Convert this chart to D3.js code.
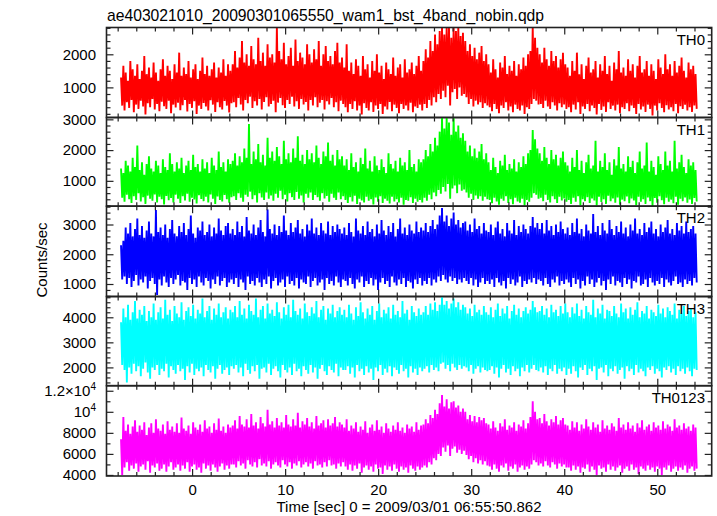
<!DOCTYPE html>
<html><head><meta charset="utf-8">
<script src="https://cdn.jsdelivr.net/npm/d3@7"></script>
<style>
body{margin:0;background:#fff}
svg{display:block}
text{font-family:"Liberation Sans",Arial,Helvetica,sans-serif}
</style>
</head><body>
<svg id="c" width="717" height="516"></svg>
<script>
// ---------------- data ----------------
const titleText = "ae403021010_20090301065550_wam1_bst_4band_nobin.qdp";
const xLabel = "Time [sec] 0 = 2009/03/01 06:55:50.862";
const yLabel = "Counts/sec";
const channels = ["TH0", "TH1", "TH2", "TH3", "TH0123"];
const channelColors = ["#ff0000", "#00ff00", "#0000ff", "#00ffff", "#ff00ff"];
const binStart = -7.7;   // s, first bin
const binWidth = 0.25;   // s, each bin holds one peak and one trough
const xTickLabels = [0, 10, 20, 30, 40, 50];

// per 0.25 s bin: peak and trough counts/sec
const th0Hi = [1300,1650,1450,1200,1800,1550,1350,1700,1250,1500,1950,1400,1600,1300,1750,1450,1200,1550,1850,1350,1650,1500,1250,1700,
1450,2050,1350,1600,1400,1800,1300,1550,1700,1250,1500,1900,1400,1650,1350,1550,1750,1300,1600,1450,1850,1350,1700,1500,
1700,2100,1600,1900,2400,1750,2000,1650,2250,1850,1700,2500,1800,2050,1650,2300,1900,2000,1750,2810,2100,1850,2350,1700,
1950,2200,1650,2450,1800,2050,1900,1700,2300,2000,1750,2150,1850,2400,1650,2000,2250,1800,1950,1700,2100,2350,1750,1900,
1600,2300,1500,1750,1400,1850,1650,1350,1950,1550,1700,1300,1800,1500,2000,1450,1650,1250,1750,1550,1400,1900,1350,1600,1700,1300,1850,1450,1550,1750,1400,1650,1950,1500,
1800,2150,1900,2400,2100,2600,2300,2700,
2810,2600,2810,2810,2500,2810,2700,2810,2550,2650,
2400,2100,2300,1950,2200,1850,2050,2250,1800,2000,
1700,1450,1850,1550,1300,1750,1600,1950,1400,1650,1500,1800,1350,1700,1550,1900,1650,2000,
2100,2810,2500,2200,
2000,1750,2200,1850,1650,2100,1800,1950,1600,1850,2050,1700,
1600,1350,1800,1500,2050,1400,1700,1250,1650,1900,1450,1550,1800,1300,1700,1500,1950,1400,1650,1200,
1750,1550,2100,1450,1600,1350,1850,1500,1700,1300,1650,1950,1450,1550,1800,1350,1700,1500,1250,1850,
1600,1400,2000,1550,1700,1350,1800,1450,1650,1900,1500,1300,1750,1550,1650,1400];
const th0Lo = [450,300,550,380,620,250,480,350,600,420,180,520,400,650,330,500,280,570,430,350,600,220,480,390,
540,310,460,620,270,500,380,580,200,450,350,530,420,300,610,480,260,550,400,330,590,450,240,520,
550,400,680,480,300,620,520,720,380,580,450,650,330,560,700,420,500,600,250,540,680,460,380,620,
500,720,420,580,350,650,480,560,300,620,450,700,400,540,620,330,580,480,680,400,550,280,600,500,
400,250,500,350,580,300,450,180,520,380,300,550,260,450,350,500,200,420,330,560,280,480,380,220,500,350,450,300,540,250,420,380,480,300,
500,380,620,450,700,550,800,650,
900,700,1050,450,850,950,650,1000,750,800,
700,500,650,420,600,480,550,380,520,450,
400,280,500,350,220,450,380,550,300,420,250,480,350,300,450,200,400,350,
500,650,600,480,
500,380,600,420,350,550,450,300,520,400,480,350,
400,250,480,330,550,200,420,350,500,280,450,380,180,500,320,420,260,550,350,450,
300,480,220,400,350,520,280,450,380,200,500,330,420,260,480,350,150,450,300,520,
380,250,460,330,400,280,500,220,430,350,480,300,400,260,450,350];

const th1Hi = [1400,1250,1650,1500,1300,1750,1450,2150,1350,1600,1200,1550,1800,1400,1300,1650,1500,1250,1700,1450,1350,1900,1550,1300,
1600,1400,1750,1250,1500,1650,1350,1850,1450,1550,1300,1700,1400,1600,1250,1750,1500,1350,1950,1450,1600,1300,1700,1550,
1650,1900,1500,1800,1600,2050,1750,2850,1550,1950,1700,2200,1600,1850,1500,2400,1750,1950,1650,2100,1800,1550,2300,1700,
1900,1600,2050,1750,2450,1650,1850,1550,2000,1700,1900,1600,2150,1750,1550,1950,1800,2250,1650,1850,1500,2000,1700,1800,
1500,1700,1350,1900,1450,1600,1300,1750,1550,2050,1400,1650,1300,1800,1500,1350,1700,1450,1250,1900,1550,1400,1650,1300,1750,1500,1600,1350,2000,1450,1550,1300,1700,1600,
1700,2000,1800,2200,1950,2400,2150,2600,
3060,2700,3060,2900,2500,3060,2600,2800,2400,2550,
2300,1950,2150,1800,2050,1750,1950,2200,1700,1900,
1600,1350,1750,1450,1250,1650,1500,1850,1350,1550,1400,1700,1300,1600,1450,1800,1550,1900,
2000,2650,2350,2050,
1900,1650,2100,1750,1550,2000,1700,1850,1500,1750,1950,1600,
1500,1300,1750,1450,2000,1350,1650,1250,1600,1850,1400,1500,2300,1300,1650,1450,1900,1350,1600,1200,
1700,1500,2100,1400,1550,1300,1800,1450,1650,1250,1600,1950,1400,1500,2250,1300,1650,1450,1200,1800,
1550,1350,1950,1500,1650,1300,2300,1400,1600,1850,1450,1250,1700,1500,1600,1350];
const th1Lo = [450,320,550,400,280,500,380,600,330,470,250,520,420,350,560,300,480,400,230,510,370,440,300,550,
420,280,500,360,580,320,450,390,260,530,410,340,480,300,560,420,250,490,380,330,540,400,290,470,
500,380,600,450,320,550,480,650,400,530,300,600,460,380,620,420,520,350,580,450,680,400,550,330,
600,470,380,640,420,520,300,580,450,620,380,540,470,350,600,430,510,320,580,450,380,620,400,500,
380,280,470,330,520,250,420,360,300,480,350,400,230,460,320,500,280,420,350,260,480,330,400,300,450,220,380,350,470,280,420,320,380,300,
450,350,550,400,620,500,700,580,
800,650,900,420,750,850,600,880,680,720,
620,450,580,380,520,420,500,350,480,400,
380,270,450,330,220,420,350,500,280,400,240,450,330,290,420,200,380,320,
450,600,550,420,
450,340,550,380,300,500,400,280,480,360,430,320,
380,250,450,320,500,210,400,340,470,280,430,360,200,480,310,400,250,520,340,430,
290,460,220,390,340,490,270,430,360,210,480,320,400,250,460,340,180,440,290,500,
370,240,450,320,390,270,480,220,420,340,460,290,390,250,440,330];

const th2Hi = [2300,2450,2900,2700,3050,2600,2850,3200,2650,2950,2550,2800,3100,2700,2600,3490,2750,2900,2650,3000,2550,2850,3150,2700,
2600,2950,2750,3050,2650,2850,3300,2700,2550,2900,2800,3100,2650,2750,3000,2600,2900,2700,3200,2800,2650,2950,3050,2700,
2850,2650,3100,2750,2950,2600,3250,2800,2700,3000,2650,2900,3150,2750,2600,3500,2850,2700,3000,2650,2950,2750,3300,2800,
2650,3050,2750,2900,3150,2700,2850,2600,3000,2800,3200,2700,2900,2650,3050,2800,2700,3100,2650,2950,2750,3000,2850,2700,
2900,2650,3050,2750,2600,3200,2800,2700,2950,2650,3100,2750,2850,2600,3000,2700,3150,2800,2650,2950,2750,3050,2600,2850,3200,2700,2900,2650,3000,2800,2700,3100,2750,2900,
2800,3050,2750,2950,3150,2850,3000,3300,
3550,3100,3300,2950,3200,3400,3000,3150,2900,3050,
3100,2800,3000,2750,3200,2850,2950,2700,3050,2800,
2750,3000,2650,2900,3100,2700,2850,2600,3050,2800,2700,3150,2650,2950,2750,3000,2850,2700,
2950,3250,2900,3050,
2850,3050,2700,3150,2800,2950,2650,3000,2750,3100,2850,2700,
2900,2650,3050,2750,3200,2700,2850,2600,3000,2800,2700,3350,2750,2950,2650,3050,2800,2700,3150,2850,
2650,2950,2750,3100,2700,2900,2600,3000,2800,3200,2700,2850,2650,3050,2750,2900,3100,2700,2850,2600,
3000,2750,2900,3150,2700,2850,2650,3050,2800,2950,2700,3100,2750,2850,2950,2700];
const th2Lo = [1150,1250,1000,1200,900,1100,1300,950,1150,1050,1250,850,1100,1200,1000,630,1150,950,1250,1050,900,1200,1000,1150,
1300,950,1100,1050,800,1200,1000,1150,900,1250,1050,950,1200,1100,850,1150,1000,1250,950,1100,1200,900,1050,1150,
1000,1200,900,1150,1050,800,1250,1000,1100,950,1200,1050,900,1150,1000,1250,850,1100,1200,950,1050,1150,900,1250,
1000,1100,950,1200,850,1150,1050,1000,1250,900,1100,1200,950,1050,1150,800,1200,1000,1100,950,1250,1050,900,1150,
1100,950,1200,1000,850,1150,1050,1250,900,1100,1000,1200,950,1150,800,1050,1200,1000,1100,900,1250,1050,950,1150,1000,1200,900,1100,1050,850,1150,1000,1200,950,
1100,1000,1200,950,1150,1050,1250,1100,
1300,1150,1050,1250,1100,1200,1000,1150,1050,1200,
1100,1000,1200,950,1150,900,1050,1200,1000,1100,
1000,1150,900,1200,1050,950,1100,850,1200,1000,1150,950,1050,1250,900,1100,1000,1150,
1050,1200,1000,1150,
1100,950,1200,1000,900,1150,1050,1250,950,1100,1000,1150,
1050,900,1200,1000,1150,850,1100,950,1250,1000,1150,900,1050,1200,950,1100,800,1150,1000,1250,
950,1100,1050,900,1200,1000,1150,850,1100,1050,1250,950,1000,1150,900,1200,1050,950,1100,1000,
1200,900,1150,1050,950,1100,1250,1000,1050,900,1150,1000,1100,950,1200,1050];

const th3Hi = [3800,4350,4000,4500,3900,4200,4650,3950,4300,4100,4450,3850,4250,4000,4550,3900,4200,4400,3950,4700,4100,4300,3850,4450,
4150,4000,4600,3900,4250,4400,4050,4500,3950,4300,4150,4750,4000,4250,4450,3900,4350,4100,4550,4000,4200,4400,3950,4300,
4200,4450,4000,4650,4100,4350,3950,4500,4250,4100,4750,4000,4300,4450,3950,4550,4150,4300,4050,4600,4200,3950,4400,4100,
4500,4000,4700,4250,4100,4350,3950,4550,4200,4050,4400,4150,4650,4000,4300,4450,3900,4350,4150,4500,4000,4250,4400,4100,
4300,4000,4500,4150,3900,4400,4050,4600,4200,3950,4350,4100,4450,3900,4250,4550,4000,4300,4150,4400,3950,4500,4100,4250,4000,4650,4150,4300,3900,4450,4200,4050,4350,4100,
4200,4450,4100,4550,4300,4600,4250,4500,
4800,4500,4650,4350,4550,4750,4400,4600,4300,4500,
4400,4150,4350,4050,4500,4200,4300,4100,4450,4200,
4100,4400,4000,4300,4550,4050,4350,4150,4450,3950,4250,4500,4100,4350,4000,4250,4400,4150,
4300,4650,4400,4200,
4250,4450,4100,4350,4000,4500,4200,4300,4050,4450,4150,4550,
4200,4000,4400,4150,4550,4050,4300,3950,4450,4200,4100,4700,4000,4350,4150,4500,3950,4300,4250,4050,
4450,4150,4000,4550,4200,4350,3950,4400,4100,4300,4600,4000,4250,4150,4450,3950,4300,4200,4050,4500,
4150,4350,4000,4400,4250,4100,4550,3950,4300,4150,4450,4050,4250,4350,4000,4200];
const th3Lo = [2100,1900,1400,2000,1750,2150,1850,2050,1650,1950,2200,1800,1550,2000,1900,2100,1700,1950,1850,2150,1600,2050,1900,1750,
2100,1850,1950,1500,2050,1800,2150,1700,1950,1850,2000,1650,2100,1900,1800,2050,1550,1950,2100,1750,1900,2000,1700,2050,
1950,2100,1800,2000,1650,2150,1900,1750,2050,1850,2100,1550,1950,2000,1800,2150,1700,1950,2050,1850,1600,2100,1900,1800,
2000,1700,2150,1850,1950,1650,2050,1900,1750,2100,1800,2000,1550,1950,2100,1850,1700,2050,1900,1800,2150,1650,2000,1900,
1900,2050,1750,2000,1600,2100,1850,1950,1700,2050,1800,1950,1500,2000,1850,2100,1700,1950,1800,2050,1650,2000,1900,1750,2100,1850,1950,1600,2050,1800,1950,1700,2000,1850,
1950,2050,1800,2100,1900,2000,1850,2150,
2200,1950,2100,1850,2150,2000,1900,2100,1950,2050,
2000,1850,2100,1750,1950,2050,1800,2000,1900,1850,
1900,2050,1750,2000,1600,1950,2100,1800,1950,1700,2050,1850,1950,1650,2000,1850,2100,1800,
1950,2100,1900,1850,
2000,1800,2050,1700,1950,1850,2100,1750,1950,1850,2000,1700,
1950,1750,2050,1850,1600,2000,1900,2100,1700,1950,1850,2050,1500,1950,2000,1800,2100,1650,1950,1850,
2050,1750,1900,2000,1550,2050,1850,1950,1700,2100,1800,1950,1850,1650,2000,1900,2050,1750,1950,1850,
1600,2000,1900,2050,1800,1950,1700,2050,1850,1950,1750,2000,1850,1650,1950,1900];

const sumHi = [7400,9500,8200,8800,7900,8600,9200,8100,8700,8300,9000,7800,8500,8900,8000,9300,8400,8200,8800,7900,9100,8300,8600,8100,
8900,8000,9450,8400,8200,8700,7900,9000,8500,8300,8800,8100,9200,8400,8600,8000,8900,8300,9350,8200,8600,8000,8800,8500,
8700,9200,8400,9600,8800,8600,9300,8500,9800,8700,9000,8400,9500,8900,8600,10200,8800,9100,8500,9400,8700,9000,8500,9700,
8800,8600,9300,8700,9900,8500,9100,8800,9400,8600,9000,8400,9600,8700,8900,9200,8500,9300,8700,8900,9500,8600,9000,8800,
8500,9300,8200,8700,8400,9000,8100,8600,8300,9100,8000,8500,8800,8200,9200,8300,8600,8000,8900,8400,8100,8700,8300,9000,8200,8500,8000,8800,8400,8600,8100,9000,8300,8700,
8800,9300,8900,9700,9400,10200,9800,10800,
11600,10500,11200,10300,10900,11000,10400,10600,10000,10300,
10000,9300,9700,9100,9600,9000,9500,9200,9400,8900,
8800,8400,9100,8500,8200,8900,8600,9300,8300,8700,8500,9000,8200,8800,8600,9200,8400,8900,
9500,11000,10000,9300,
9400,8900,9800,9100,8700,9300,9000,9600,8800,9200,9400,8800,
8700,8300,9100,8500,9000,8200,8800,8400,9300,8600,8300,9000,8500,8800,8100,9200,8400,8700,8300,8900,
8600,8200,9400,8500,8800,8300,9000,8400,8700,8100,8900,8500,9200,8300,8600,8800,8200,9000,8500,8700,
8300,9100,8400,8800,8600,8200,9300,8500,8700,8300,8900,8400,8600,8200,8800,8500];
const sumLo = [4000,4700,5200,4400,4900,4600,5100,4300,4800,5000,4500,5300,4200,4900,4700,5100,4400,4600,5000,4300,4800,5200,4500,4700,
5000,4400,4900,4600,5200,4300,4800,5000,4500,4700,4200,5100,4600,4900,4400,5000,4700,4300,4800,5100,4500,4900,4600,5000,
5000,4700,5300,4900,5100,4600,5400,5000,4800,5200,4700,5500,4900,5100,4800,5300,4600,5000,5200,4900,4700,5400,5000,4800,
5200,4600,5100,4900,5300,4700,5000,5200,4800,5100,4600,5300,4900,5000,4700,5200,4800,5400,4900,5000,4600,5100,4800,5200,
4800,4500,5000,4400,4900,4600,5100,4200,4700,4900,4500,4800,4300,5000,4600,4700,4100,4900,4500,4800,4400,5000,4600,4300,4800,4500,4700,4200,4900,4600,4400,4800,4500,4700,
4900,4700,5200,5000,5600,5400,6000,5800,
6600,6200,6800,5800,6500,6700,6100,6400,6000,6300,
5900,5500,5800,5200,5600,5100,5400,5000,5300,4900,
4800,4500,5000,4600,4300,4900,4700,5100,4400,4800,4600,5000,4300,4700,4900,4500,4800,4600,
5000,5400,5200,4900,
5100,4800,5300,4900,4700,5200,5000,4600,5100,4800,5000,4700,
4700,4400,4900,4500,4800,4200,4700,4600,5000,4300,4800,4500,4000,4900,4600,4700,4300,5000,4500,4800,
4400,4700,4900,4200,4600,4800,4400,5000,4500,4700,4100,4800,4600,4400,4900,4500,4700,4300,4800,4600,
4000,4700,4500,4900,4300,4600,4800,4400,4700,4500,4900,4200,4600,4800,4400,4600];

// y-axis tick labels per panel
const th0Ticks = [1000, 2000];
const th1Ticks = [1000, 2000, 3000];
const th2Ticks = [1000, 2000, 3000];
const th3Ticks = [2000, 3000, 4000];
const sumTicks = [4000, 6000, 8000, 10000, 12000];

// ---------------- layout ----------------
const panels = [
  {hi: th0Hi, lo: th0Lo, ticks: th0Ticks, minor: 200, domain: [90, 2810]},
  {hi: th1Hi, lo: th1Lo, ticks: th1Ticks, minor: 200, domain: [175, 3060]},
  {hi: th2Hi, lo: th2Lo, ticks: th2Ticks, minor: 200, domain: [580, 3615]},
  {hi: th3Hi, lo: th3Lo, ticks: th3Ticks, minor: 200, domain: [1270, 4830]},
  {hi: sumHi, lo: sumLo, ticks: sumTicks, minor: 1000, domain: [3900, 12480]}
];
const left = 106.5, right = 711.7;
const bounds = [27.5, 117.5, 206.2, 296.5, 385.7, 476];
const majLen = 7, minLen = 4;
const axisColor = "#222";
const fontFam = '"Liberation Sans",Arial,sans-serif';

const svg = d3.select("#c");
const x = d3.scaleLinear().domain([-9.2, 55.85]).range([left, right]);
const xMinor = d3.range(-8, 56, 2);

svg.append("text").attr("x", 107).attr("y", 20.5)
  .attr("font-size", 15.7).attr("fill", "#000").text(titleText);

const defs = svg.append("defs");

panels.forEach((p, k) => {
  const top = bounds[k], bot = bounds[k + 1];
  const y = d3.scaleLinear().domain(p.domain).range([bot, top]);
  const color = channelColors[k];
  defs.append("clipPath").attr("id", "clip" + k)
    .append("rect").attr("x", left).attr("y", top).attr("width", right - left).attr("height", bot - top);
  const g = svg.append("g").attr("clip-path", `url(#clip${k})`);

  // light curve: peak then trough in every bin
  const n = Math.min(p.hi.length, p.lo.length);
  const pts = [];
  for (let i = 0; i < n; i++) {
    const t = binStart + binWidth * i;
    pts.push([t + binWidth * 0.25, p.hi[i]]);
    pts.push([t + binWidth * 0.75, p.lo[i]]);
  }
  const line = d3.line().x(d => x(d[0])).y(d => y(d[1]));
  g.append("path").datum(pts)
    .attr("fill", "none").attr("stroke", color).attr("stroke-width", 1.9)
    .attr("stroke-linejoin", "bevel")
    .attr("d", line);

  // y axes (left, right)
  const minorVals = d3.range(Math.ceil(p.domain[0] / p.minor) * p.minor, p.domain[1], p.minor)
    .filter(v => !p.ticks.includes(v));
  const mkAxis = (axisFn, xPos, vals, len, labels) => {
    const ax = axisFn(y).tickValues(vals).tickSizeInner(-len).tickSizeOuter(0).tickPadding(10.5)
      .tickFormat(labels ? d3.format("d") : "");
    const a = svg.append("g").attr("transform", `translate(${xPos},0)`).call(ax);
    a.select(".domain").remove();
    a.selectAll("line").attr("stroke", axisColor).attr("stroke-width", 1.2);
    return a;
  };
  const la = mkAxis(d3.axisLeft, left, p.ticks, majLen, true);
  mkAxis(d3.axisLeft, left, minorVals, minLen, false);
  mkAxis(d3.axisRight, right, p.ticks, majLen, false);
  mkAxis(d3.axisRight, right, minorVals, minLen, false);
  la.selectAll("text").attr("font-size", 15).attr("fill", "#000").attr("font-family", fontFam)
    .each(function (d) {
      const el = d3.select(this);
      if (d >= 10000) {
        el.text("");
        const m = d / 10000;
        el.append("tspan").text(m === 1 ? "10" : (m + "\u00d710"));
        el.append("tspan").attr("font-size", 10).attr("dy", "-0.6em").text("4");
      }
    });

  // x ticks on top & bottom of each panel
  const mkX = (axisFn, yPos, vals, len, labels) => {
    const ax = axisFn(x).tickValues(vals).tickSizeInner(-len).tickSizeOuter(0).tickPadding(8)
      .tickFormat(labels ? d3.format("d") : "");
    const a = svg.append("g").attr("transform", `translate(0,${yPos})`).call(ax);
    a.select(".domain").remove();
    a.selectAll("line").attr("stroke", axisColor).attr("stroke-width", 1.2);
    return a;
  };
  const xMin = xMinor.filter(v => !xTickLabels.includes(v));
  const isLast = k === panels.length - 1;
  const bx = mkX(d3.axisBottom, bot, xTickLabels, majLen, isLast);
  mkX(d3.axisBottom, bot, xMin, minLen, false);
  mkX(d3.axisTop, top, xTickLabels, majLen, false);
  mkX(d3.axisTop, top, xMin, minLen, false);
  if (isLast) bx.selectAll("text").attr("font-size", 15).attr("fill", "#000").attr("font-family", fontFam);

  // frame
  svg.append("rect").attr("x", left).attr("y", top).attr("width", right - left).attr("height", bot - top)
    .attr("fill", "none").attr("stroke", axisColor).attr("stroke-width", 1.6);

  // channel label
  svg.append("text").attr("x", 705).attr("y", top + 17).attr("text-anchor", "end")
    .attr("font-size", 15).attr("fill", "#000").text(channels[k]);
});

svg.append("text").attr("x", 409).attr("y", 511.5).attr("text-anchor", "middle")
  .attr("font-size", 15).attr("fill", "#000").text(xLabel);
svg.append("text").attr("transform", "translate(46.5,260) rotate(-90)").attr("text-anchor", "middle")
  .attr("font-size", 15).attr("fill", "#000").text(yLabel);
</script>
</body></html>
